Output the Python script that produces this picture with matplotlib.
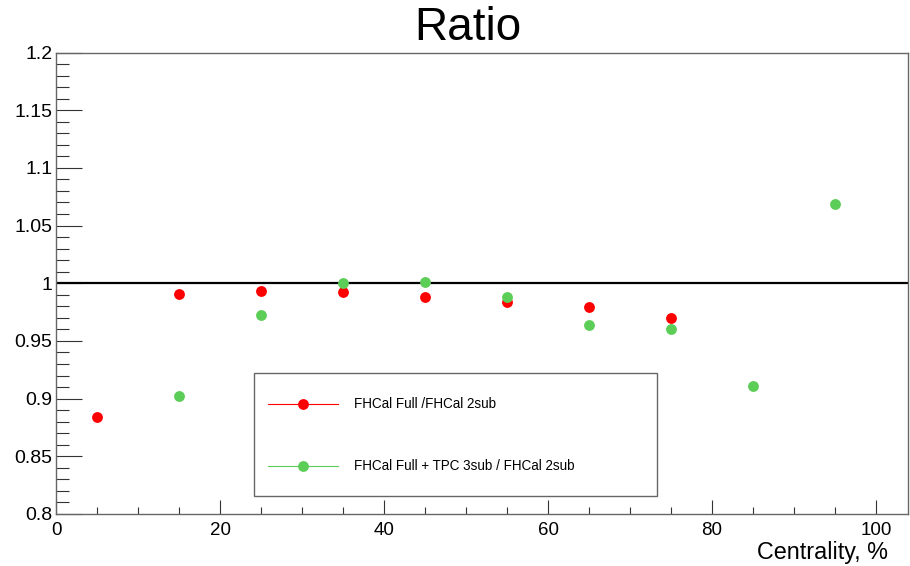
import matplotlib
matplotlib.use("Agg")
import matplotlib.pyplot as plt
from matplotlib.ticker import MultipleLocator, FixedLocator
from matplotlib.lines import Line2D

plt.rcParams['font.family'] = ['Liberation Sans', 'DejaVu Sans']

centrality_red = [5, 15, 25, 35, 45, 55, 65, 75]
ratio_red = [0.884, 0.991, 0.993, 0.992, 0.9885, 0.984, 0.979, 0.970]
centrality_green = [15, 25, 35, 45, 55, 65, 75, 85, 95]
ratio_green = [0.9025, 0.9725, 1.000, 1.001, 0.988, 0.964, 0.960, 0.911, 1.0685]
label_red = "FHCal Full /FHCal 2sub"
label_green = "FHCal Full + TPC 3sub / FHCal 2sub"
title = "Ratio"
xlabel = "Centrality, %"

W, H = 910, 566
fig = plt.figure(figsize=(W / 100, H / 100), dpi=100)
x0, x1, y0, y1 = 56, 908, 52.5, 514
ax = fig.add_axes([x0 / W, 1 - y1 / H, (x1 - x0) / W, (y1 - y0) / H])

red = '#ff0000'
green = '#5ccd57'
ms = 7.8
ax.plot(centrality_red, ratio_red, 'o', color=red, ms=ms, mec='none', zorder=3)
ax.plot(centrality_green, ratio_green, 'o', color=green, ms=ms, mec='none', zorder=4)
ax.axhline(1.0, color='black', lw=1.6, zorder=2)

ax.set_xlim(0, 103.9)
ax.set_ylim(0.8, 1.2)

frame_col = '#666666'
for s in ax.spines.values():
    s.set_color(frame_col)
    s.set_linewidth(1.0)

ax.xaxis.set_major_locator(FixedLocator([0, 20, 40, 60, 80, 100]))
ax.xaxis.set_minor_locator(MultipleLocator(5))
ax.yaxis.set_major_locator(MultipleLocator(0.05))
ax.yaxis.set_minor_locator(MultipleLocator(0.01))
ax.tick_params(axis='both', which='both', direction='in', colors='#333333', width=0.8,
               top=False, right=False)
ax.tick_params(axis='y', which='major', length=18.5, pad=2.5, labelsize=14)
ax.tick_params(axis='y', which='minor', length=9)
ax.tick_params(axis='x', which='major', length=10, pad=6, labelsize=13.5)
ax.tick_params(axis='x', which='minor', length=5)
ax.set_yticks([0.8, 0.85, 0.9, 0.95, 1.0, 1.05, 1.1, 1.15, 1.2])
ax.set_yticklabels(['0.8', '0.85', '0.9', '0.95', '1', '1.05', '1.1', '1.15', '1.2'])
ax.set_xticklabels(['0', '20', '40', '60', '80', '100'])
for lab in ax.get_yticklabels():
    lab.set_color('black')
for lab in ax.get_xticklabels():
    lab.set_color('black')

fig.text(468 / W, 1 - 28 / H, title, ha='center', va='center', fontsize=33)
fig.text(888 / W, 1 - 553 / H, xlabel, ha='right', va='center', fontsize=16.8)

# legend box (ROOT-style)
lx0, lx1, ly0, ly1 = 254, 657, 373, 496
box = plt.Rectangle((lx0 / W, 1 - ly1 / H), (lx1 - lx0) / W, (ly1 - ly0) / H,
                    transform=fig.transFigure, fill=True, facecolor='white',
                    edgecolor=frame_col, lw=1.0, zorder=10)
fig.add_artist(box)
for yy, col, lab in [(404, red, label_red), (466, green, label_green)]:
    fig.add_artist(Line2D([268 / W, 338 / W], [1 - yy / H, 1 - yy / H], color=col,
                          lw=0.8, transform=fig.transFigure, zorder=11))
    fig.add_artist(Line2D([303 / W], [1 - yy / H], marker='o', color=col, ms=ms, mec='none',
                          transform=fig.transFigure, zorder=12))
    fig.text(354 / W, 1 - yy / H, lab, ha='left', va='center', fontsize=9.75, zorder=12)

fig.savefig('out.png', dpi=100)
